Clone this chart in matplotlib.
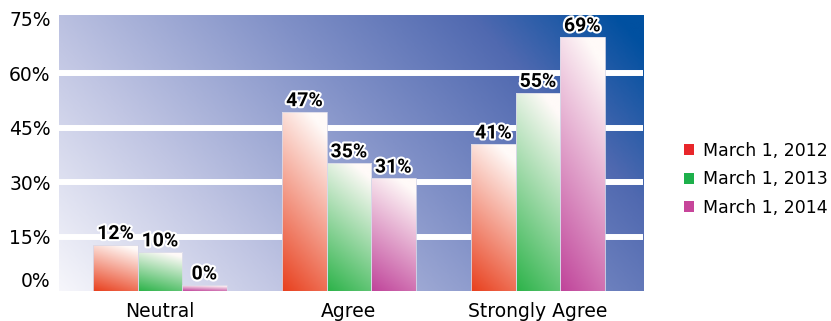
import numpy as np
import matplotlib
matplotlib.use("Agg")
from matplotlib import pyplot as plt
from matplotlib.colors import LinearSegmentedColormap
from matplotlib.patches import Patch
import matplotlib.patheffects as pe

categories = ["Neutral", "Agree", "Strongly Agree"]
series_names = ["March 1, 2012", "March 1, 2013", "March 1, 2014"]
# bar heights as drawn in the picture (percent)
bar_2012 = [12.7, 49.3, 40.4]
bar_2013 = [10.7, 35.2, 54.6]
bar_2014 = [1.6, 31.0, 69.9]
# printed labels
lab_2012 = ["12%", "47%", "41%"]
lab_2013 = ["10%", "35%", "55%"]
lab_2014 = ["0%", "31%", "69%"]
yticks = [0, 15, 30, 45, 60, 75]

colors = ["#e8401e", "#2db34a", "#c0449a"]
legend_colors = ["#e8262a", "#1db04b", "#c7459a"]

fig = plt.figure(figsize=(8.31, 3.21), dpi=100)
ax = fig.add_axes([59 / 831, 1 - 291 / 321, 584 / 831, 276 / 321])

# background gradient
bg = LinearSegmentedColormap.from_list(
    "bg", [(0, "#f6f6fb"), (0.28, "#c0c5e3"), (0.58, "#8090c7"),
           (0.82, "#5069b0"), (1, "#0050a0")])
xx, yy = np.meshgrid(np.linspace(0, 1, 300), np.linspace(0, 1, 150))
t = np.clip(0.72 * xx + 0.31 * yy, 0, 1)
ax.imshow(t, cmap=bg, extent=(0, 1, 0, 1), origin="lower", aspect="auto",
          transform=ax.transAxes, zorder=0, interpolation="bilinear")

for g in yticks[1:-1]:
    ax.axhline(g, color="white", lw=4.3, zorder=1)

x = np.arange(len(categories))
width = 0.235
heights = [bar_2012, bar_2013, bar_2014]
labels = [lab_2012, lab_2013, lab_2014]

for i in range(3):
    bars = ax.bar(x + (i - 1) * width, heights[i], width=width,
                  facecolor="none", edgecolor="#d8d8e8", lw=0.6, zorder=3)
    cmap = LinearSegmentedColormap.from_list("b%d" % i, [colors[i], "#fffaf8"])
    for b, lab in zip(bars, labels[i]):
        x0, w, h = b.get_x(), b.get_width(), b.get_height()
        gx, gy = np.meshgrid(np.linspace(0, 1, 40), np.linspace(0, 1, 100))
        grad = np.clip(0.85 * gy + 0.25 * gx, 0, 1)
        im = ax.imshow(grad, cmap=cmap, extent=(x0, x0 + w, 0, h),
                       origin="lower", aspect="auto", zorder=2,
                       interpolation="bilinear")
        im.set_clip_path(b)
        ax.text(x0 + w / 2, h + 0.5, lab, ha="center", va="bottom",
                fontsize=14, fontweight="bold", family="Roboto",
                color="black", zorder=5,
                path_effects=[pe.withStroke(linewidth=3, foreground="white")])

ax.set_xlim(-0.534, 2.556)
ax.set_ylim(0, 76)
ax.set_xticks(x)
ax.set_xticklabels(categories, fontsize=13.5, color="black")
ax.set_yticks(yticks)
ax.set_yticklabels(["%d%%" % v for v in yticks], fontsize=13.5, color="black")
ax.get_yticklabels()[0].set_va("bottom")
ax.tick_params(length=0)
ax.tick_params(axis="y", pad=6)
ax.tick_params(axis="x", pad=8)
for s in ax.spines.values():
    s.set_visible(False)

handles = [Patch(facecolor=c, edgecolor="none") for c in legend_colors]
fig.legend(handles, series_names, loc="upper left",
           bbox_to_anchor=(684 / 831, 1 - 142 / 321), frameon=False,
           fontsize=12.5, handlelength=0.6, handleheight=0.6,
           handletextpad=0.5, labelspacing=0.6, borderpad=0,
           borderaxespad=0)

plt.savefig("out.png", dpi=100)
